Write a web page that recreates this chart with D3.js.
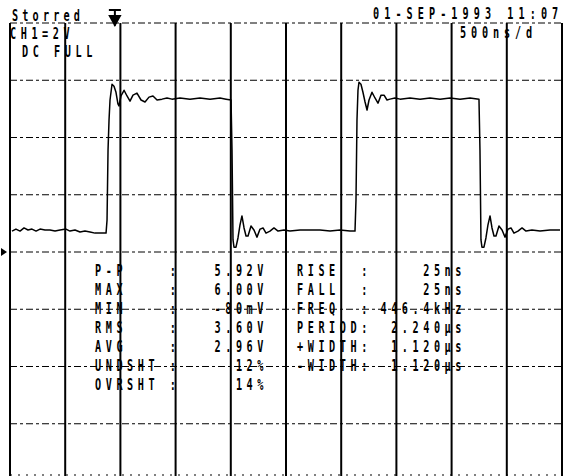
<!DOCTYPE html>
<html>
<head>
<meta charset="utf-8">
<script src="https://cdn.jsdelivr.net/npm/d3@7"></script>
<style>
  body { margin: 0; background: #fff; }
  text { font-family: "DejaVu Sans Mono", "Liberation Mono", monospace; font-weight: bold; font-size: 15px; fill: #000; white-space: pre; }
</style>
</head>
<body>
<svg id="scope"></svg>
<script>
// grid divisions (500 ns/div, 2 V/div)
const timeTicks = [0, 500, 1000, 1500, 2000, 2500, 3000, 3500, 4000, 4500, 5000];
const voltTicks = [-8, -6, -4, -2, 0, 2, 4, 6, 8];

// captured trace, time in ns, level in V
const waveTime = [18, 54, 91, 127, 163, 199, 236, 272, 317, 362, 408, 453, 507, 543, 589, 634, 679, 725, 770, 815, 870,
  879, 888, 897, 906, 924, 942, 960, 978, 987, 1005, 1033, 1060, 1087, 1114, 1150, 1187, 1223, 1259, 1295, 1332, 1377, 1422, 1467, 1540, 1630, 1721, 1812, 1902, 1957, 2002,
  2011, 2020, 2029, 2047, 2065, 2083, 2101, 2120, 2138, 2156, 2183, 2210, 2237, 2265, 2292, 2319, 2355, 2391, 2428, 2482, 2536, 2627, 2717, 2808, 2899, 2989, 3080, 3125,
  3134, 3143, 3152, 3161, 3179, 3197, 3216, 3234, 3252, 3279, 3306, 3333, 3361, 3388, 3415, 3442, 3487, 3533, 3623, 3714, 3804, 3895, 3986, 4076, 4167, 4248,
  4257, 4266, 4275, 4293, 4311, 4329, 4348, 4366, 4384, 4402, 4429, 4457, 4484, 4511, 4538, 4565, 4601, 4638, 4674, 4728, 4801, 4891, 4982];
const waveVolt = [0.73, 0.80, 0.73, 0.84, 0.77, 0.80, 0.73, 0.80, 0.77, 0.77, 0.73, 0.77, 0.80, 0.73, 0.77, 0.70, 0.73, 0.70, 0.66, 0.66, 0.66,
  1.12, 3.56, 4.61, 5.31, 5.86, 5.79, 5.58, 5.17, 5.10, 5.45, 5.65, 5.45, 5.27, 5.48, 5.55, 5.31, 5.24, 5.41, 5.45, 5.31, 5.34, 5.38, 5.34, 5.38, 5.34, 5.38, 5.34, 5.38, 5.34, 5.31,
  3.56, 0.42, 0.17, 0.17, 0.49, 0.94, 1.26, 0.84, 0.56, 0.56, 0.91, 0.77, 0.52, 0.80, 0.84, 0.66, 0.73, 0.84, 0.73, 0.77, 0.73, 0.77, 0.77, 0.77, 0.73, 0.77, 0.73, 0.73,
  1.82, 4.61, 5.65, 5.93, 5.86, 5.58, 5.24, 4.96, 5.31, 5.58, 5.38, 5.20, 5.48, 5.48, 5.31, 5.34, 5.38, 5.34, 5.38, 5.34, 5.38, 5.34, 5.38, 5.34, 5.38, 5.34,
  3.56, 0.42, 0.17, 0.17, 0.49, 0.94, 1.26, 0.84, 0.56, 0.56, 0.91, 0.77, 0.52, 0.80, 0.84, 0.66, 0.73, 0.84, 0.73, 0.77, 0.73, 0.77, 0.77];

// measurement readout
const measLabels = ["P-P", "MAX", "MIN", "RMS", "AVG", "UNDSHT", "OVRSHT"];
const measValues = ["5.92V", "6.00V", "-80mV", "3.60V", "2.96V", "12%", "14%"];
const timeLabels = ["RISE", "FALL", "FREQ", "PERIOD", "+WIDTH", "-WIDTH"];
const timeValues = ["25ns", "25ns", "446.4kHz", "2.240µs", "1.120µs", "1.120µs"];

const width = 568, height = 476;
const svg = d3.select("#scope").attr("width", width).attr("height", height);
svg.append("rect").attr("width", width).attr("height", height).attr("fill", "#fff");

const x = d3.scaleLinear().domain([0, 5000]).range([10, 562]);
const y = d3.scaleLinear().domain([-8, 8]).range([481, 23]);

// horizontal dashed graticule
svg.append("g").selectAll("line").data(voltTicks).join("line")
  .attr("x1", x(0)).attr("x2", x(5000))
  .attr("y1", d => y(d)).attr("y2", d => y(d))
  .attr("stroke", "#000").attr("stroke-width", 1)
  .attr("stroke-dasharray", "7,3,3,3");
svg.append("line").attr("x1", x(0)).attr("x2", x(5000)).attr("y1", 475).attr("y2", 475)
  .attr("stroke", "#000").attr("stroke-dasharray", "2,6");

// vertical solid graticule
svg.append("g").selectAll("line").data(timeTicks).join("line")
  .attr("x1", d => x(d)).attr("x2", d => x(d))
  .attr("y1", y(8)).attr("y2", height)
  .attr("stroke", "#000").attr("stroke-width", 2);

// trace
const line = d3.line().x(d => x(d[0])).y(d => y(d[1]));
svg.append("path")
  .datum(waveTime.map((t, i) => [t, waveVolt[i]]))
  .attr("d", line)
  .attr("fill", "none").attr("stroke", "#000").attr("stroke-width", 1.5)
  .attr("stroke-linejoin", "round");

// markers: trigger position (top) and ground level (left)
const trig = x(950);
svg.append("path")
  .attr("d", `M${trig - 6},10 H${trig + 6} M${trig},10 V26 M${trig - 5},16 L${trig + 5},16 L${trig},25 Z`)
  .attr("stroke", "#000").attr("stroke-width", 2).attr("fill", "#000");
svg.append("path")
  .attr("d", `M1,${y(0) - 4} L7,${y(0)} L1,${y(0) + 4} Z`).attr("fill", "#000");

// scope-style narrow text
const sx = 0.68, fs = 15;
function label(str, px, py, adv, anchor) {
  return svg.append("text")
    .attr("transform", `translate(${px},${py}) scale(${sx},1)`)
    .attr("text-anchor", anchor || "start")
    .style("letter-spacing", (adv / sx - 0.602 * fs) + "px")
    .text(str);
}

label("Storred", 12, 21, 10.3);
label("CH1=2V", 10, 39, 10.7);
label("DC FULL", 22, 57, 10.7);
label("01-SEP-1993 11:07", 373, 19, 11.2);
label("500ns/d", 460, 38, 11);

measLabels.forEach((d, i) => {
  const by = 276 + i * 19;
  label(d.padEnd(7, " ") + ":", 95, by, 10.7);
  label(measValues[i], 262 + 6, by, 10.7, "end");
});
timeLabels.forEach((d, i) => {
  const by = 276 + i * 19;
  label(d.padEnd(6, " ") + ":", 297, by, 10.7);
  label(timeValues[i], 460 + 6, by, 10.7, "end");
});
</script>
</body>
</html>
